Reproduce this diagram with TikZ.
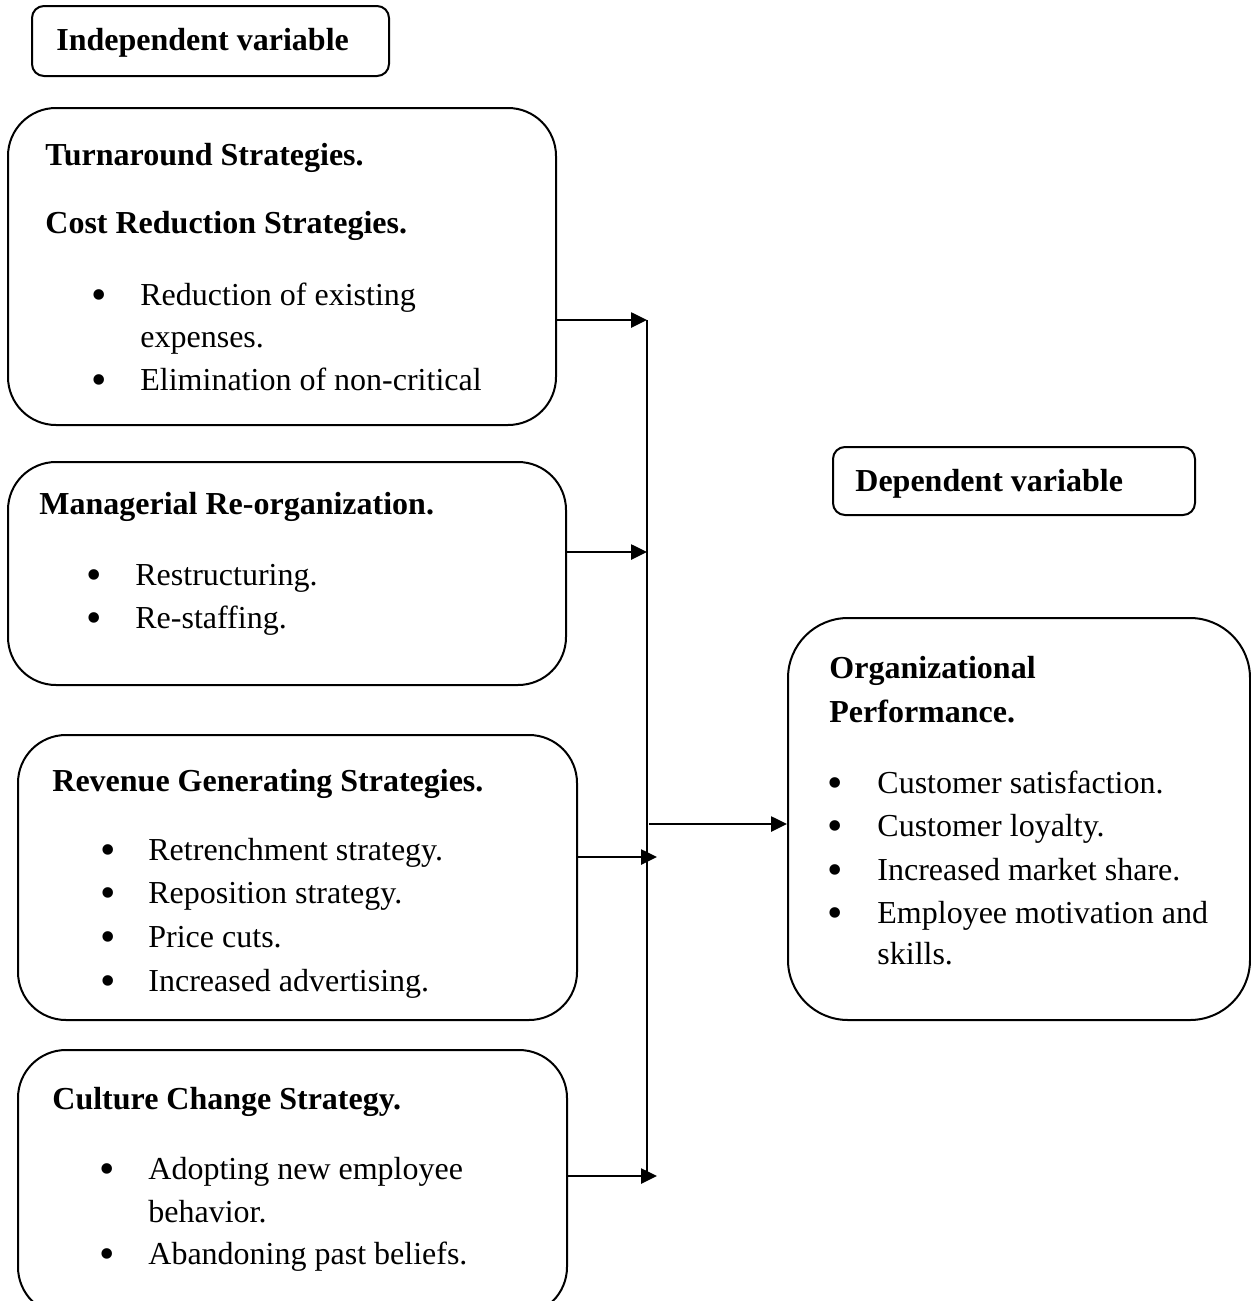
\documentclass[tikz,border=0pt]{standalone}
\usepackage{fontspec}
\setmainfont{Liberation Serif}
\usetikzlibrary{arrows.meta}

\tikzset{
  varbox/.style={draw, line width=1pt, rounded corners=6pt},
  bigbox/.style={draw, line width=1pt, rounded corners=24pt},
  head/.style={anchor=base west, font=\fontsize{16}{19}\selectfont\bfseries},
  txt/.style={anchor=base west},
  bul/.style={anchor=base, yshift=-2pt, font=\fontsize{22}{22}\selectfont},
  bus/.style={line width=1pt},
  arr/.style={line width=1.3pt, -{Triangle[length=8pt, width=7.5pt]}}
}

\begin{document}
\begin{tikzpicture}[x=0.5pt, y=-0.5pt, inner sep=0pt, font=\fontsize{16}{19}\selectfont]
\useasboundingbox (0,0) rectangle (1251,1301);
\clip (0,0) rectangle (1251,1301);

% variable labels
\node[varbox, minimum width=178.5pt, minimum height=35pt] (indep) at (210.5,41) {};
\node[head] (indepT) at (56,50) {Independent variable};
\node[varbox, minimum width=181pt, minimum height=34pt] (dep) at (1014,481) {};
\node[head] (depT) at (855,491) {Dependent variable};

% strategy boxes
\node[bigbox, minimum width=274pt, minimum height=158.5pt] (turn) at (282,266.5) {};
\node[bigbox, minimum width=279pt, minimum height=111.5pt] (manag) at (287,573.5) {};
\node[bigbox, minimum width=279.5pt, minimum height=142.5pt] (reven) at (297.5,877.5) {};
\node[bigbox, minimum width=274.5pt, minimum height=132.5pt] (cult) at (292.5,1182.5) {};
\node[bigbox, rounded corners=30pt, minimum width=231pt, minimum height=201pt] (perf) at (1019,819) {};

% box texts
\node[head] (turnT) at (45,165) {Turnaround Strategies.};
\node[head] (costT) at (45,233) {Cost Reduction Strategies.};
\node[bul] (tb1) at (99,305) {\textbullet};
\node[txt] (t1) at (140,305) {Reduction of existing};
\node[txt] (t1b) at (140,347) {expenses.};
\node[bul] (tb2) at (99,390) {\textbullet};
\node[txt] (t2) at (140,390) {Elimination of non-critical};

\node[head] (managT) at (39,514) {Managerial Re-organization.};
\foreach \y/\t [count=\i] in {585/Restructuring., 628/Re-staffing.}{
  \node[bul] (mb\i) at (94,\y) {\textbullet};
  \node[txt] (m\i) at (135,\y) {\t};
}

\node[head] (revenT) at (52,791) {Revenue Generating Strategies.};
\foreach \y/\t [count=\i] in {860/Retrenchment strategy., 903/Reposition strategy.,
    947/Price cuts., 991/Increased advertising.}{
  \node[bul] (rb\i) at (108,\y) {\textbullet};
  \node[txt] (r\i) at (148,\y) {\t};
}

\node[head] (cultT) at (52,1109) {Culture Change Strategy.};
\node[bul] (cb1) at (107,1179) {\textbullet};
\node[txt] (c1) at (148,1179) {Adopting new employee};
\node[txt] (c1b) at (148,1222) {behavior.};
\node[bul] (cb2) at (107,1264) {\textbullet};
\node[txt] (c2) at (148,1264) {Abandoning past beliefs.};

\node[head] (perfT) at (829,678) {Organizational};
\node[head] (perfTb) at (829,722) {Performance.};
\foreach \y/\t [count=\i] in {793/Customer satisfaction., 836/Customer loyalty.,
    880/Increased market share., 923/Employee motivation and}{
  \node[bul] (pb\i) at (835,\y) {\textbullet};
  \node[txt] (p\i) at (877,\y) {\t};
}
\node[txt] (p4b) at (877,964) {skills.};

% connectors
\coordinate (top) at (647,320);
\coordinate (bot) at (647,1176);
\coordinate (j2) at (647,552);
\coordinate (j3) at (657,857);
\coordinate (j4) at (657,1176);
\coordinate (jm) at (649,824);
\draw[bus] (top)--(bot);
\draw[arr] (turn.east |- top)--(top);
\draw[arr] (manag.east |- j2)--(j2);
\draw[arr] (reven.east |- j3)--(j3);
\draw[arr] (cult.east |- j4)--(j4);
\draw[arr] (jm)--(perf.west |- jm);
\end{tikzpicture}
\end{document}
